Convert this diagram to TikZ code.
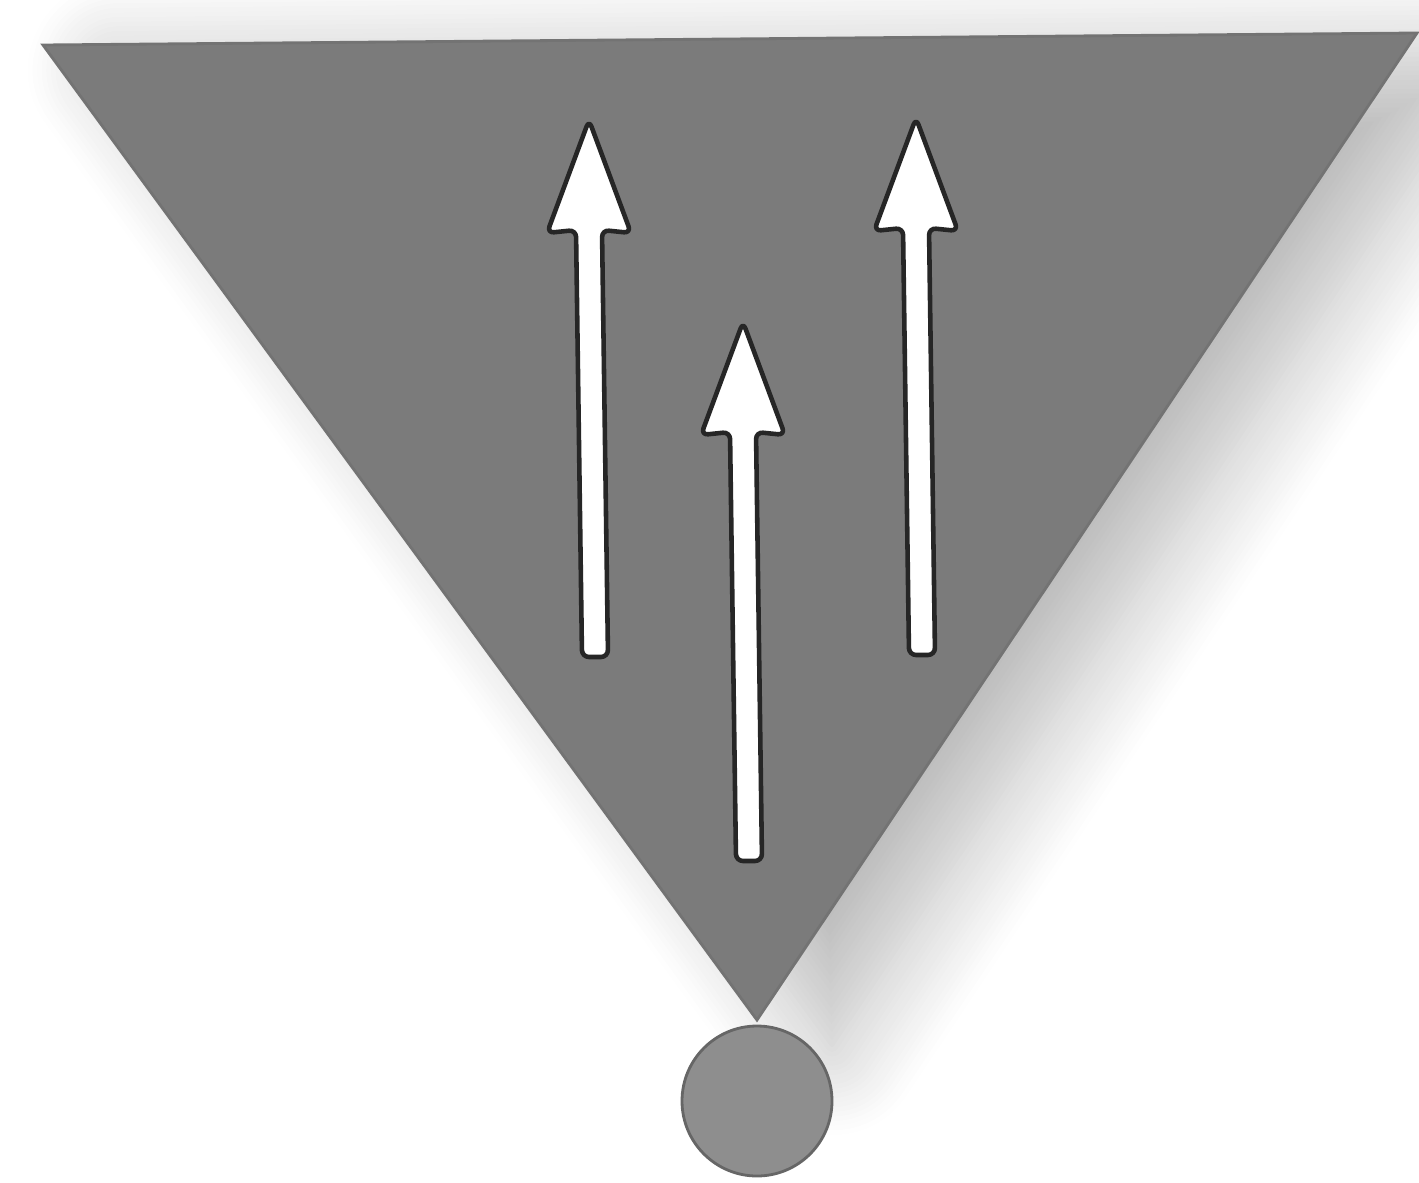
\documentclass[tikz,border=0pt]{standalone}
\usetikzlibrary{shadows.blur}
\definecolor{trigray}{HTML}{7B7B7B}
\definecolor{circgray}{HTML}{8E8E8E}
\tikzset{
  whitearrow/.style={fill=white, draw=black!85, line width=1.3pt, line join=round},
  tri/.style={fill=trigray, draw=black!55, line width=0.8pt,
    blur shadow={shadow xshift=0.75cm, shadow yshift=-0.25cm, shadow blur radius=0.9cm, shadow opacity=28, shadow blur steps=20}},
  disc/.style={fill=circgray, draw=black!60, line width=0.8pt}
}
\begin{document}
\begin{tikzpicture}[x=0.01cm,y=-0.01cm]
\useasboundingbox (0,0) rectangle (1419,1182);
% triangle
\path[tri] (43,45) -- (1417,33) -- (757,1020) -- cycle;
% circle
\path[disc] (757,1101) circle (75);
% arrows: shaft bottom x, shaft bottom y, tip x, tip y
\newcommand{\uparr}[4]{%
  \pgfmathsetmacro{\hb}{#4+110}
  \path[whitearrow, rounded corners=2pt]
    ({#1-13},#2) -- ({#3-13},\hb) -- ({#3-42},{\hb+3}) -- (#3,#4) -- ({#3+42},{\hb+3})
    -- ({#3+13},\hb) -- ({#1+13},#2) -- cycle;
}
\uparr{595}{657}{589}{120}
\uparr{749}{861}{743}{322}
\uparr{922}{655}{916}{118}
\end{tikzpicture}
\end{document}
